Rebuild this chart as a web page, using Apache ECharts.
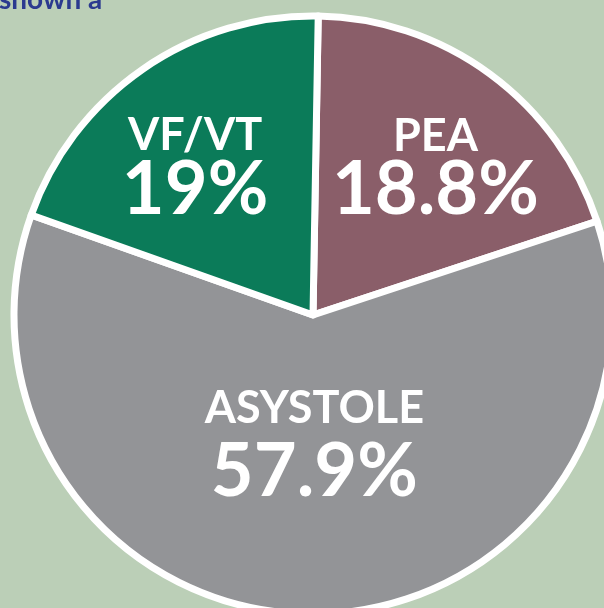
<!DOCTYPE html>
<html>
<head>
<meta charset="utf-8">
<script src="https://cdn.jsdelivr.net/npm/echarts@6/dist/echarts.min.js"></script>
<style>
  html, body { margin: 0; padding: 0; background: #bbcfb7; }
  #main { width: 604px; height: 608px; }
</style>
</head>
<body>
<div id="main"></div>
<script>
// Rhythm categories and their shares (percent), clockwise from 12 o'clock
const rhythms = ['PEA', 'ASYSTOLE', 'VF/VT'];
const shares = [18.8, 57.9, 19];
const sliceColors = ['#8a5e69', '#939497', '#0b7b59'];
// label nudges so the text sits where the original put it
const labelOffsets = [[32, -25], [3, -23], [-31, -23]];

const myChart = echarts.init(document.getElementById('main'));

const font = 'Lato, "Noto Sans", sans-serif';

const option = {
  backgroundColor: '#bbcfb7',
  animation: false,
  graphic: [{
    type: 'text',
    left: -1,
    top: -14,
    style: {
      text: 'shown a',
      fill: '#2b3a8f',
      font: 'bold 28px ' + font
    }
  }],
  series: [{
    type: 'pie',
    center: [313, 315],
    radius: 299,
    startAngle: 89,
    clockwise: true,
    avoidLabelOverlap: false,
    itemStyle: { borderColor: '#ffffff', borderWidth: 7 },
    label: {
      position: 'inside',
      formatter: '{n|{b}}\n{v|{c}%}',
      rich: {
        n: { color: '#fff', fontSize: 45, fontWeight: 'bold', fontFamily: font, lineHeight: 46 },
        v: { color: '#fff', fontSize: 74, fontWeight: 'bold', fontFamily: font, lineHeight: 62 }
      }
    },
    labelLine: { show: false },
    emphasis: { disabled: true },
    data: rhythms.map((name, i) => ({
      name: name,
      value: shares[i],
      itemStyle: { color: sliceColors[i] },
      label: name === 'ASYSTOLE'
        ? {
            offset: labelOffsets[i],
            rich: {
              n: { color: '#fff', fontSize: 45, fontWeight: 'bold', fontFamily: font, lineHeight: 56 },
              v: { color: '#fff', fontSize: 74, fontWeight: 'bold', fontFamily: font, lineHeight: 72 }
            }
          }
        : { offset: labelOffsets[i] }
    }))
  }]
};

myChart.setOption(option);
</script>
</body>
</html>
